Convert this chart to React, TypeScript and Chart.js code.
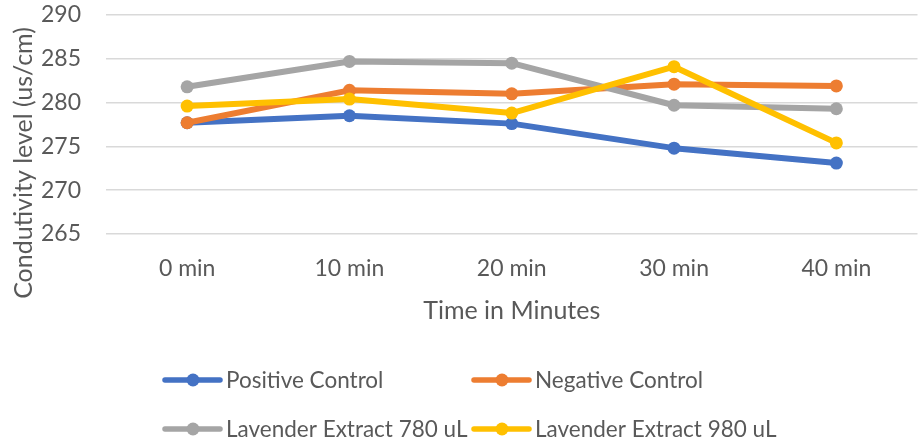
import React, { useEffect, useRef } from "react";
import { Chart, registerables } from "chart.js";

Chart.register(...registerables);

const categories = ["0 min", "10 min", "20 min", "30 min", "40 min"];
const seriesNames = [
  "Positive Control",
  "Negative Control",
  "Lavender Extract 780 uL",
  "Lavender Extract 980 uL",
];
const positiveControl = [277.7, 278.5, 277.6, 274.8, 273.1];
const negativeControl = [277.7, 281.4, 281.0, 282.1, 281.9];
const lavender780 = [281.8, 284.7, 284.5, 279.7, 279.3];
const lavender980 = [279.6, 280.4, 278.8, 284.1, 275.4];
const yMin = 265;
const yMax = 290;
const yStep = 5;
const xTitle = "Time in Minutes";
const yTitle = "Condutivity level (us/cm)";

const colors = ["#4472C4", "#ED7D31", "#A5A5A5", "#FFC000"];
const TEXT = "#595959";
const FONT = "Lato";

const overlayPlugin = {
  id: "overlay",
  afterDraw(chart: any) {
    const ctx = chart.ctx as CanvasRenderingContext2D;
    // y-axis title
    ctx.save();
    ctx.translate(24, 163);
    ctx.rotate(-Math.PI / 2);
    ctx.font = `25px ${FONT}`;
    ctx.fillStyle = TEXT;
    ctx.textAlign = "center";
    ctx.textBaseline = "middle";
    ctx.fillText(yTitle, 0, 0);
    ctx.restore();

    // legend (2 x 2 grid)
    const cols = [163, 472];
    const rows = [380, 429];
    chart.data.datasets.forEach((ds: any, i: number) => {
      const x = cols[i % 2];
      const y = rows[Math.floor(i / 2)];
      ctx.save();
      ctx.strokeStyle = ds.borderColor;
      ctx.fillStyle = ds.borderColor;
      ctx.lineWidth = 5.5;
      ctx.lineCap = "round";
      ctx.beginPath();
      ctx.moveTo(x + 2, y);
      ctx.lineTo(x + 57, y);
      ctx.stroke();
      ctx.beginPath();
      ctx.arc(x + 30, y, 6.5, 0, Math.PI * 2);
      ctx.fill();
      ctx.font = `22.5px ${FONT}`;
      ctx.fillStyle = TEXT;
      ctx.textAlign = "left";
      ctx.textBaseline = "middle";
      ctx.fillText(ds.label, x + 63, y + 1);
      ctx.restore();
    });
  },
};

export default function App() {
  const ref = useRef<HTMLCanvasElement>(null);

  useEffect(() => {
    if (!ref.current) return;
    const values = [positiveControl, negativeControl, lavender780, lavender980];
    const chart = new Chart(ref.current, {
      type: "line",
      data: {
        labels: categories,
        datasets: values.map((v, i) => ({
          label: seriesNames[i],
          data: v,
          borderColor: colors[i],
          backgroundColor: colors[i],
          pointBackgroundColor: colors[i],
          pointBorderColor: colors[i],
          borderWidth: 6,
          pointRadius: 6.5,
          pointBorderWidth: 0,
          tension: 0,
          fill: false,
          order: 4 - i,
          borderCapStyle: "round" as const,
          borderJoinStyle: "round" as const,
        })),
      },
      options: {
        animation: false,
        responsive: false,
        layout: { padding: { top: 15, right: 0, left: 0, bottom: 114 } },
        plugins: {
          legend: { display: false },
          tooltip: { enabled: false },
        },
        scales: {
          x: {
            offset: true,
            grid: { display: false, drawTicks: false },
            border: { display: false },
            ticks: {
              padding: 21,
              color: TEXT,
              font: { family: FONT, size: 23 },
              maxRotation: 0,
              autoSkip: false,
            },
            title: {
              display: true,
              text: xTitle,
              color: TEXT,
              font: { family: FONT, size: 25 },
              padding: { top: 0, bottom: 0 },
            },
            afterFit: (scale: any) => {
              scale.height = 92;
            },
          },
          y: {
            min: yMin,
            max: yMax,
            ticks: {
              stepSize: yStep,
              padding: 0,
              color: TEXT,
              font: { family: FONT, size: 23 },
            },
            grid: {
              color: "#D9D9D9",
              lineWidth: 1.5,
              drawTicks: true,
              tickLength: 25,
              tickColor: "rgba(0,0,0,0)",
            },
            border: { display: false },
            afterFit: (scale: any) => {
              scale.width = 106;
            },
          },
        },
      },
      plugins: [overlayPlugin],
    });
    return () => chart.destroy();
  }, []);

  return (
    <div style={{ position: "absolute", left: 0, top: 0, width: 924, height: 440, background: "#fff" }}>
      <canvas ref={ref} width={924} height={440} style={{ display: "block" }} />
    </div>
  );
}
